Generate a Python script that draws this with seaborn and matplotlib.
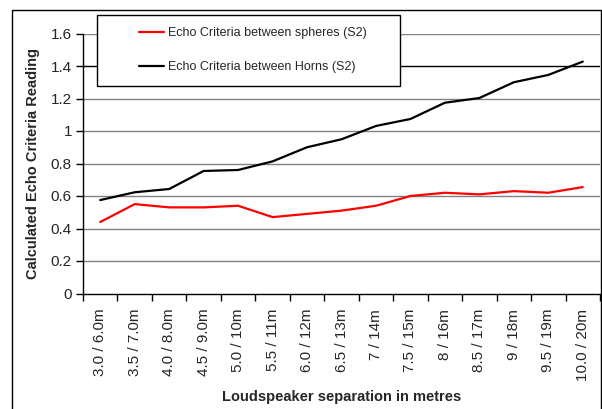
import matplotlib
matplotlib.use("Agg")
import matplotlib.pyplot as plt
from matplotlib.patches import Rectangle
import seaborn as sns
import pandas as pd

# values
separations = ["3.0 / 6.0m", "3.5 / 7.0m", "4.0 / 8.0m", "4.5 / 9.0m", "5.0 / 10m",
               "5.5 / 11m", "6.0 / 12m", "6.5 / 13m", "7 / 14m", "7.5 / 15m",
               "8 / 16m", "8.5 / 17m", "9 / 18m", "9.5 / 19m", "10.0 / 20m"]
spheres = [0.44, 0.55, 0.53, 0.53, 0.54, 0.47, 0.49, 0.51, 0.54, 0.60,
           0.62, 0.61, 0.63, 0.62, 0.655]
horns = [0.575, 0.623, 0.643, 0.754, 0.76, 0.813, 0.90, 0.949, 1.031, 1.074,
         1.174, 1.203, 1.30, 1.345, 1.427]
series_names = ["Echo Criteria between spheres (S2)", "Echo Criteria between Horns (S2)"]
y_ticks = [0, 0.2, 0.4, 0.6, 0.8, 1, 1.2, 1.4, 1.6]

df = pd.concat([
    pd.DataFrame({"sep": separations, "val": spheres, "series": series_names[0]}),
    pd.DataFrame({"sep": separations, "val": horns, "series": series_names[1]}),
])

sns.set_style("white")
plt.rcParams["font.family"] = ["Liberation Sans", "DejaVu Sans"]

fig = plt.figure(figsize=(6.02, 4.09), dpi=100)
ax = fig.add_axes([83 / 602, 1 - 293.5 / 409, (600 - 83) / 602, (293.5 - 33.5) / 409])

sns.lineplot(data=df, x="sep", y="val", hue="series", sort=False,
             palette=["#ff0000", "#000000"], linewidth=1.6, ax=ax, legend=False)

ax.set_xlim(-0.5, len(separations) - 0.5)
ax.set_ylim(0, 1.6)

# gridlines (the 1.4 one is drawn darker in the original)
for t in y_ticks[1:]:
    ax.axhline(t, color="#000000" if t == 1.4 else "#808080", lw=1, zorder=0.5)

ax.set_yticks(y_ticks)
ax.set_yticklabels([f"{t:g}" for t in y_ticks], fontsize=11)
ax.set_xticks(range(len(separations)))
ax.set_xticklabels(separations, rotation=90, fontsize=11)
ax.set_xticks([i - 0.5 for i in range(len(separations) + 1)], minor=True)
ax.tick_params(axis="x", which="major", length=0, pad=11)
ax.tick_params(axis="x", which="minor", length=5, width=1, color="black", direction="out", bottom=True)
ax.tick_params(axis="y", length=5, width=1, color="black", direction="out", pad=3, left=True)

for s in ["top", "right"]:
    ax.spines[s].set_visible(False)
for s in ["left", "bottom"]:
    ax.spines[s].set_color("black")
    ax.spines[s].set_linewidth(1)

ax.set_xlabel("")
ax.set_ylabel("Calculated Echo Criteria Reading", fontsize=10.5, fontweight="bold", labelpad=8)
fig.text(341.5 / 602, 1 - 397 / 409, "Loudspeaker separation in metres", ha="center",
         va="center", fontsize=10.5, fontweight="bold")

# legend box
ax.add_patch(Rectangle((97 / 602, 1 - 86 / 409), 303 / 602, 71 / 409, transform=fig.transFigure,
                       facecolor="white", edgecolor="black", lw=1, clip_on=False, zorder=4))
handles = [plt.Line2D([], [], color="#ff0000", lw=1.6), plt.Line2D([], [], color="#000000", lw=1.6)]
leg = ax.legend(handles, series_names, loc="center left", bbox_to_anchor=(139 / 602, 1 - 50 / 409),
                bbox_transform=fig.transFigure, frameon=False, fontsize=9, borderpad=0,
                borderaxespad=0, labelspacing=1.75, handlelength=2.0, handletextpad=0.3)
leg.set_zorder(5)

# outer chart border (bottom edge is cut off in the original)
fig.patches.append(Rectangle((12 / 602, -0.05), (601 - 12) / 602, 1.05 - 10 / 409,
                             transform=fig.transFigure, fill=False, edgecolor="black", lw=1))

fig.savefig("out.png", dpi=100)
